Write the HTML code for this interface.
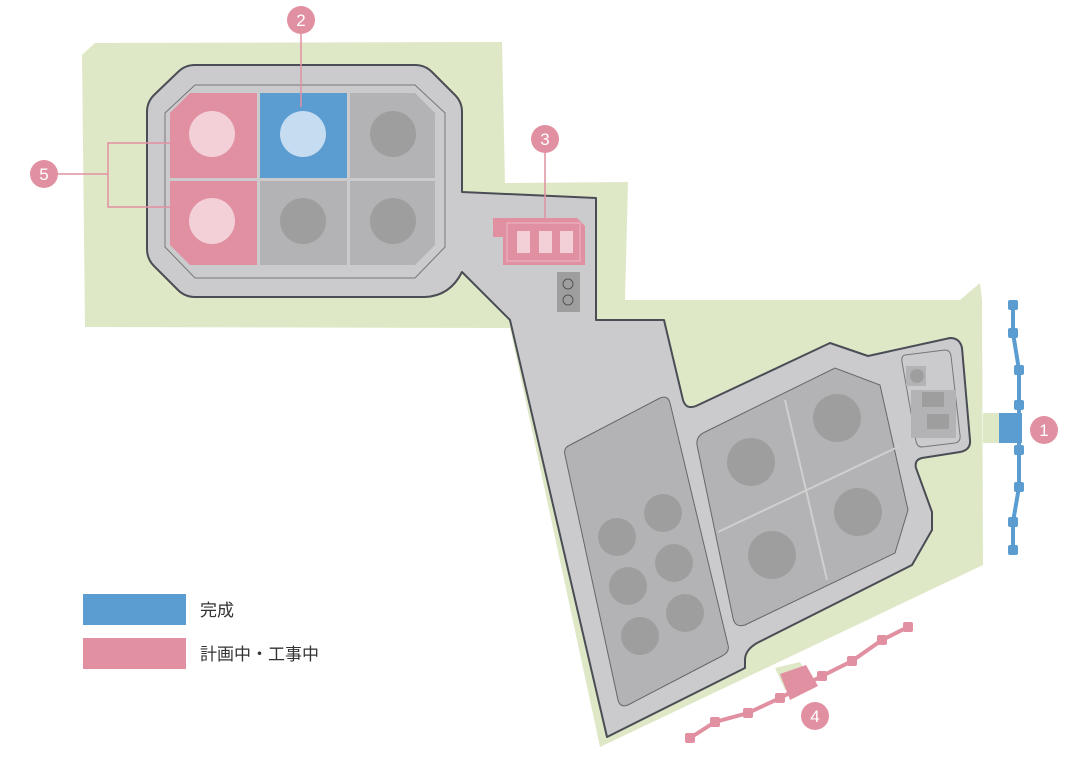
<!DOCTYPE html>
<html><head><meta charset="utf-8"><style>
html,body{margin:0;padding:0;background:#fff;width:1080px;height:758px;overflow:hidden}
svg{display:block}
text{font-family:"Liberation Sans","Noto Sans CJK JP",sans-serif}
</style></head><body>
<svg width="1080" height="758" viewBox="0 0 1080 758" xmlns="http://www.w3.org/2000/svg">
<polygon fill="#dfe8c6" points="82,55 95,43 502,42 505,183 628,182 625,300 960,300 980,283 982,300 983,565 600,747 510,328 85,327"/>
<rect x="983" y="413" width="18" height="30" fill="#dfe8c6"/>
<polygon fill="#dfe8c6" points="775,668 800,662 808,676 785,690"/>
<path fill="#cbcbcd" stroke="#4a4d55" stroke-width="2" stroke-linejoin="round" d="M195,65 L415,65 Q425,65 432,72 L455,95 Q462,102 462,112 L462,192 L596,198 L596,320 L664,320 L683,400 Q686,410 696,406 L830,343 L868,356 L950,338 Q960,338 962,348 L970,440 Q971,450 960,452 L922,458 Q914,460 916,468 L932,512 L932,530 L912,565 L757,643 Q745,650 745,660 L745,668 L607,737 L510,320 L462,272 Q450,296 425,297 L195,297 Q185,297 178,290 L154,266 Q147,259 147,249 L147,112 Q147,102 154,95 L178,72 Q185,65 195,65 Z"/>
<path fill="#cbcbcd" stroke="#777" stroke-width="1" d="M195,85 L415,85 L445,113 L445,247 L415,278 L195,278 L165,247 L165,113 Z"/>
<polygon fill="#e190a1" points="190,93 257,93 257,178 170,178 170,113"/>
<polygon fill="#e190a1" points="170,181 257,181 257,265 190,265 170,245"/>
<rect x="260" y="93" width="87" height="85" fill="#5b9dd1"/>
<polygon fill="#b3b3b5" points="350,93 415,93 435,113 435,178 350,178"/>
<rect x="260" y="181" width="87" height="84" fill="#b3b3b5"/>
<polygon fill="#b3b3b5" points="350,181 435,181 435,245 415,265 350,265"/>
<circle cx="212" cy="134" r="23" fill="#f3cfd8"/>
<circle cx="212" cy="221" r="23" fill="#f3cfd8"/>
<circle cx="303" cy="134" r="23" fill="#c6dcf1"/>
<circle cx="393" cy="134" r="23" fill="#9e9e9e"/>
<circle cx="303" cy="221" r="23" fill="#9e9e9e"/>
<circle cx="393" cy="221" r="23" fill="#9e9e9e"/>
<polygon fill="#e190a1" points="493,218 577,218 585,226 585,265 503,265 503,237 493,237"/>
<rect x="507" y="223" width="73" height="38" fill="none" stroke="#f0b9c5" stroke-width="1"/>
<rect x="517" y="231" width="13" height="22" fill="#f3cfd8"/>
<rect x="539" y="231" width="13" height="22" fill="#f3cfd8"/>
<rect x="560" y="231" width="13" height="22" fill="#f3cfd8"/>
<rect x="557" y="272" width="23" height="40" fill="#9e9e9e"/>
<circle cx="568" cy="284" r="5" fill="none" stroke="#555" stroke-width="1"/>
<circle cx="568" cy="300" r="5" fill="none" stroke="#555" stroke-width="1"/>
<path fill="#b3b3b5" stroke="#666" stroke-width="1" d="M570,445 L660,398 Q668,395 670,403 L728,645 Q730,652 722,656 L628,705 Q620,708 618,700 L565,455 Q563,448 570,445 Z"/>
<circle cx="617" cy="537" r="19" fill="#9e9e9e"/>
<circle cx="663" cy="513" r="19" fill="#9e9e9e"/>
<circle cx="674" cy="563" r="19" fill="#9e9e9e"/>
<circle cx="628" cy="586" r="19" fill="#9e9e9e"/>
<circle cx="685" cy="613" r="19" fill="#9e9e9e"/>
<circle cx="640" cy="636" r="19" fill="#9e9e9e"/>
<path fill="#b3b3b5" stroke="#666" stroke-width="1" d="M705,432 L835,368 L880,385 L908,510 L895,553 L745,625 Q735,628 733,618 L697,445 Q696,436 705,432 Z"/>
<line x1="785" y1="400" x2="827" y2="580" stroke="#cfcfcf" stroke-width="2"/>
<line x1="718" y1="532" x2="900" y2="446" stroke="#cfcfcf" stroke-width="2"/>
<circle cx="751" cy="462" r="24" fill="#9e9e9e"/>
<circle cx="837" cy="418" r="24" fill="#9e9e9e"/>
<circle cx="772" cy="555" r="24" fill="#9e9e9e"/>
<circle cx="858" cy="512" r="24" fill="#9e9e9e"/>
<path fill="#cbcbcd" stroke="#777" stroke-width="1" d="M905,355 L945,350 Q950,350 951,356 L960,435 Q961,442 955,443 L922,447 Q917,447 916,441 L902,362 Q901,356 905,355 Z"/>
<rect x="906" y="366" width="20" height="20" fill="#b3b3b5"/>
<circle cx="917" cy="376" r="7" fill="#9e9e9e"/>
<rect x="911" y="390" width="45" height="48" fill="#b3b3b5"/>
<rect x="922" y="392" width="22" height="15" fill="#9e9e9e"/>
<rect x="927" y="414" width="22" height="15" fill="#9e9e9e"/>
<polyline fill="none" stroke="#5b9dd1" stroke-width="4" points="1013,305 1013,333 1019,370 1019,405 1019,445 1019,487 1013,522 1013,550"/>
<g fill="#5b9dd1">
<rect x="1008" y="300" width="10" height="10" rx="2"/><rect x="1008" y="328" width="10" height="10" rx="2"/>
<rect x="1014" y="365" width="10" height="10" rx="2"/><rect x="1014" y="400" width="10" height="10" rx="2"/>
<rect x="1014" y="445" width="10" height="10" rx="2"/><rect x="1014" y="482" width="10" height="10" rx="2"/>
<rect x="1008" y="517" width="10" height="10" rx="2"/><rect x="1008" y="545" width="10" height="10" rx="2"/>
<rect x="999" y="413" width="23" height="30"/>
</g>
<polyline fill="none" stroke="#e190a1" stroke-width="4" points="690,738 715,722 748,713 780,698 822,676 852,661 882,640 908,627"/>
<g fill="#e190a1">
<rect x="685" y="733" width="10" height="10" rx="2"/><rect x="710" y="717" width="10" height="10" rx="2"/>
<rect x="743" y="708" width="10" height="10" rx="2"/><rect x="775" y="693" width="10" height="10" rx="2"/>
<rect x="817" y="671" width="10" height="10" rx="2"/><rect x="847" y="656" width="10" height="10" rx="2"/>
<rect x="877" y="635" width="10" height="10" rx="2"/><rect x="903" y="622" width="10" height="10" rx="2"/>
<polygon points="780,674 806,665 818,686 790,700"/>
</g>
<g stroke="#e190a1" stroke-width="1.5" fill="none">
<line x1="301" y1="20" x2="301" y2="107"/>
<line x1="545" y1="140" x2="545" y2="218"/>
<polyline points="170,143 108,143 108,207 170,207"/>
<line x1="56" y1="174" x2="108" y2="174"/>
</g>
<g fill="#e190a1">
<circle cx="301" cy="20" r="14"/><circle cx="545" cy="139" r="14"/>
<circle cx="44" cy="174" r="14"/><circle cx="1044" cy="430" r="14"/>
<circle cx="815" cy="716" r="14"/>
</g>
<g fill="#fff" font-size="17" text-anchor="middle">
<text x="301" y="26">2</text><text x="545" y="145">3</text><text x="44" y="180">5</text>
<text x="1044" y="436">1</text><text x="815" y="722">4</text>
</g>
<rect x="83" y="594" width="103" height="31" fill="#5b9dd1"/>
<rect x="83" y="638" width="103" height="31" fill="#e190a1"/>
<text x="200" y="616" font-size="17" fill="#333">完成</text>
<text x="200" y="660" font-size="17" fill="#333">計画中・工事中</text>
</svg>
</body></html>
